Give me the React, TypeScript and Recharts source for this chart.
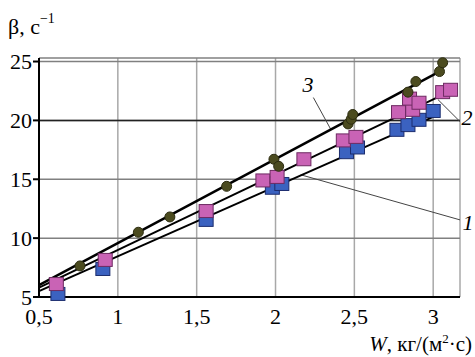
import {
  ScatterChart,
  Scatter,
  XAxis,
  YAxis,
  CartesianGrid,
  ReferenceLine,
} from "recharts";

// measured points, curve 1 (blue squares)
const w1 = [0.62, 0.905, 1.56, 1.98, 2.04, 2.45, 2.52, 2.77, 2.84, 2.91, 3.0];
const b1 = [5.26, 7.38, 11.55, 14.28, 14.6, 17.3, 17.7, 19.2, 19.6, 20.05, 20.8];

// curve 2 (pink squares)
const w2 = [0.61, 0.92, 1.56, 1.92, 2.01, 2.18, 2.43, 2.51, 2.78, 2.87, 2.85, 2.91, 3.06, 3.11];
const b2 = [6.1, 8.15, 12.3, 14.9, 15.2, 16.7, 18.3, 18.6, 20.7, 20.9, 21.85, 21.5, 22.4, 22.6];

// curve 3 (olive circles)
const w3 = [0.76, 1.13, 1.33, 1.69, 1.99, 2.02, 2.46, 2.48, 2.49, 2.84, 2.89, 3.04, 3.06];
const b3 = [7.64, 10.5, 11.8, 14.4, 16.7, 16.1, 19.7, 20.1, 20.5, 22.4, 23.3, 24.15, 24.9];

// fitted straight lines (end points)
const fitW1 = [0.5, 3.0];
const fitB1 = [5.5, 20.3];
const fitW2 = [0.5, 3.05];
const fitB2 = [5.8, 22.1];
const fitW3 = [0.5, 3.06];
const fitB3 = [6.0, 24.3];

const xTicks = [0.5, 1, 1.5, 2, 2.5, 3];
const yTicks = [5, 10, 15, 20, 25];

const zip = (xs: number[], ys: number[]) => xs.map((x, i) => ({ x, y: ys[i] }));

const FONT = "Times New Roman, Liberation Serif, DejaVu Serif, serif";

const Square = (fill: string, stroke: string) => (p: any) => (
  <rect x={p.cx - 7} y={p.cy - 6.5} width={14} height={13} fill={fill} stroke={stroke} strokeWidth={1} />
);
const Dot = (p: any) => <circle cx={p.cx} cy={p.cy} r={5} fill="#4b4b1f" stroke="#2c2c10" strokeWidth={1} />;
const NoShape = () => <g />;

export default function App() {
  const fmt = (v: number) => String(v).replace(".", ",");
  const tick = { fill: "#000", fontSize: 22, fontFamily: FONT };
  return (
    <div
      style={{
        position: "absolute",
        left: 0,
        top: 0,
        width: 475,
        height: 357,
        background: "#fff",
        fontFamily: FONT,
      }}
    >
      <ScatterChart
        width={475}
        height={357}
        margin={{ top: 58, right: 15, bottom: 30, left: 0 }}
        style={{ fontFamily: FONT }}
      >
        <CartesianGrid horizontal={false} stroke="#a8a8a8" strokeWidth={1.5} />
        <CartesianGrid vertical={false} stroke="#808080" strokeWidth={1.5} />
        <XAxis
          type="number"
          dataKey="x"
          domain={[0.5, 3.17]}
          ticks={xTicks}
          tickFormatter={fmt}
          tick={tick}
          tickLine={false}
          tickSize={0}
          tickMargin={11}
          stroke="#000"
          strokeWidth={2}
          height={30}
        />
        <YAxis
          type="number"
          dataKey="y"
          domain={[5, 25.3]}
          ticks={yTicks}
          tick={tick}
          tickSize={6}
          tickMargin={1}
          stroke="#000"
          strokeWidth={2}
          width={39}
        />
        <ReferenceLine y={20} stroke="#222" strokeWidth={1.5} />
        <ReferenceLine segment={[{ x: 2.24, y: 21.94 }, { x: 2.35, y: 19.25 }]} stroke="#444" strokeWidth={1} ifOverflow="visible" />
        <ReferenceLine segment={[{ x: 3.03, y: 21.77 }, { x: 3.17, y: 19.9 }]} stroke="#444" strokeWidth={1} ifOverflow="visible" />
        <ReferenceLine segment={[{ x: 2.16, y: 15.38 }, { x: 3.17, y: 11.55 }]} stroke="#444" strokeWidth={1} ifOverflow="visible" />
        <Scatter data={zip(fitW1, fitB1)} line={{ stroke: "#000", strokeWidth: 2 }} shape={NoShape} isAnimationActive={false} />
        <Scatter data={zip(fitW2, fitB2)} line={{ stroke: "#000", strokeWidth: 2 }} shape={NoShape} isAnimationActive={false} />
        <Scatter data={zip(fitW3, fitB3)} line={{ stroke: "#000", strokeWidth: 2.5 }} shape={NoShape} isAnimationActive={false} />
        <Scatter data={zip(w1, b1)} shape={Square("#3b62c0", "#1c2d6e")} isAnimationActive={false} />
        <Scatter data={zip(w2, b2)} shape={Square("#c963b5", "#6e2a62")} isAnimationActive={false} />
        <Scatter data={zip(w3, b3)} shape={Dot} isAnimationActive={false} />
      </ScatterChart>
      <svg width={475} height={357} style={{ position: "absolute", left: 0, top: 0, pointerEvents: "none" }}>
        <text x={8} y={34} fontSize={22} fontFamily={FONT} fill="#000">
          β, с<tspan dy={-11} fontSize={14}>−1</tspan>
        </text>
        <text x={472} y={351} fontSize={21} fontFamily={FONT} fill="#000" textAnchor="end">
          <tspan fontStyle="italic">W</tspan>, кг/(м<tspan dy={-8} fontSize={13}>2</tspan>
          <tspan dy={8}>·с)</tspan>
        </text>
        <text x={308} y={92} fontSize={22} fontFamily={FONT} fontStyle="italic" textAnchor="middle">3</text>
        <text x={467} y={125} fontSize={22} fontFamily={FONT} fontStyle="italic" textAnchor="middle">2</text>
        <text x={468} y={230} fontSize={22} fontFamily={FONT} fontStyle="italic" textAnchor="middle">1</text>
      </svg>
    </div>
  );
}
